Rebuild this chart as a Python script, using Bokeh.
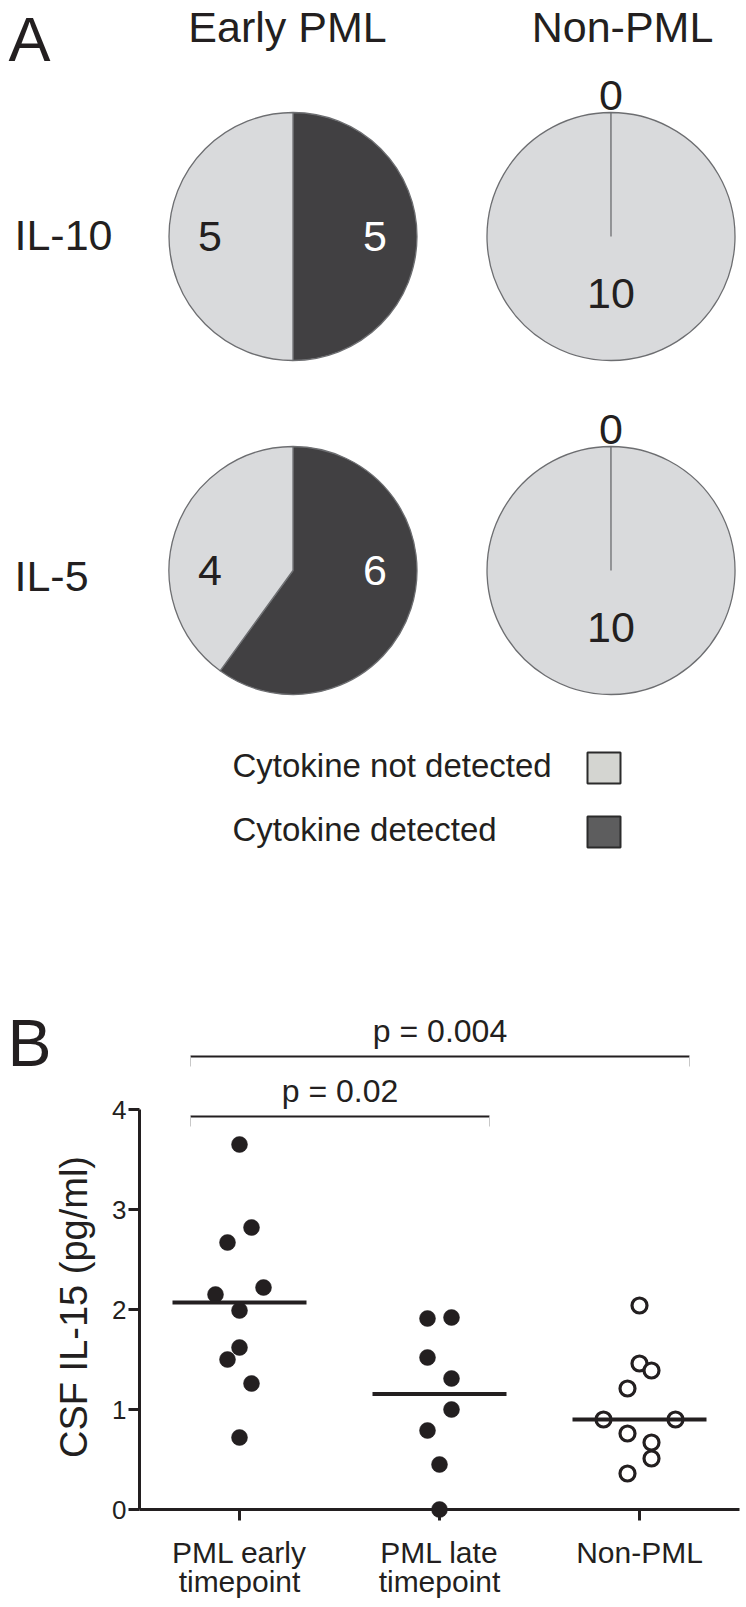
import numpy as np
from bokeh.plotting import figure
from bokeh.models import ColumnDataSource, Range1d, FixedTicker
from bokeh.layouts import column
from bokeh.core.properties import value
from bokeh.embed import file_html
from bokeh.resources import INLINE

FONT = "Liberation Sans"
INK = "#231f20"

# ---------------- data: panel A ----------------
pie_groups = ["Early PML", "Non-PML"]
pie_cytokines = ["IL-10", "IL-5"]
il10_not_detected = [5, 10]
il10_detected = [5, 0]
il5_not_detected = [4, 10]
il5_detected = [6, 0]
legend_labels = ["Cytokine not detected", "Cytokine detected"]

# ---------------- data: panel B ----------------
categories = ["PML early\ntimepoint", "PML late\ntimepoint", "Non-PML"]
pml_early = [3.65, 2.82, 2.67, 2.22, 2.15, 1.99, 1.62, 1.50, 1.26, 0.72]
pml_late = [1.92, 1.91, 1.52, 1.31, 1.00, 0.79, 0.45, 0.0]
non_pml = [2.04, 1.46, 1.39, 1.21, 0.90, 0.90, 0.76, 0.67, 0.51, 0.36]
y_ticks = [0, 1, 2, 3, 4]
p_labels = ["p = 0.02", "p = 0.004"]
p_pairs = [(1, 2), (1, 3)]

# ---------------- layout / style ----------------
LIGHT = "#d9dadc"
DARK = "#414042"
EDGE = "#6d6e71"
# jitter slots for the dot plot (layout only, in units of one dot step)
early_slots = [0, 1, -1, 2, -2, 0, 0, -1, 1, 0]
late_slots = [1, -1, -1, 1, 1, -1, 0, 0]
nonpml_slots = [0, 0, 1, -1, -3, 3, -1, 1, 1, -1]
SLOT = 0.06

W = 746
FRAME_L, FRAME_R = 139, 739

# ================= Panel A =================
# frame aligned with panel B's frame, 1 data unit = 1 px, y measured downward (negated)
pa = figure(width=W, height=892, x_range=Range1d(FRAME_L, FRAME_R), y_range=Range1d(-892, 0),
            min_border_left=FRAME_L, min_border_right=W - FRAME_R, min_border_top=0,
            min_border_bottom=0, toolbar_location=None, output_backend="svg",
            x_axis_location=None, y_axis_location=None)
pa.grid.visible = False
pa.outline_line_color = None

col_x = [292.5, 610.5]
row_y = [236, 570]
R = 124
eps = 1e-3

wx, wy, ws, we, wc = [], [], [], [], []
tx, ty, tt, tcol = [], [], [], []
rows = [(il10_not_detected, il10_detected), (il5_not_detected, il5_detected)]
for r, (nd_list, d_list) in enumerate(rows):
    for c in range(2):
        nd, d = nd_list[c], d_list[c]
        total = nd + d
        cx, cy = col_x[c], -row_y[r]
        top = np.pi / 2
        split = top - 2 * np.pi * d / total
        if d > 0:
            wx.append(cx); wy.append(cy); ws.append(top); we.append(split); wc.append(DARK)
        if nd > 0:
            end = top - 2 * np.pi + (eps if d == 0 else 0)
            wx.append(cx); wy.append(cy); ws.append(split); we.append(end); wc.append(LIGHT)
        if d > 0 and nd > 0:
            tx += [cx - 83, cx + 82]; ty += [cy, cy]
            tt += [str(nd), str(d)]; tcol += [INK, "white"]
        else:
            tx += [cx, cx]; ty += [cy + 141, cy - 57]
            tt += [str(min(nd, d)), str(max(nd, d))]; tcol += [INK, INK]

pa.wedge(x="x", y="y", radius=R, start_angle="s", end_angle="e", direction="clock",
         fill_color="c", line_color=EDGE, line_width=1.3,
         source=ColumnDataSource(dict(x=wx, y=wy, s=ws, e=we, c=wc)))
pa.text(x="x", y="y", text="t", text_color="c", text_font=value(FONT), text_font_size="43px",
        text_align="center", text_baseline="middle", level="overlay",
        source=ColumnDataSource(dict(x=tx, y=ty, t=tt, c=tcol)))

# titles and row labels
pa.text(x=[8], y=[-38], text=["A"], text_font=value(FONT), text_font_size="63px",
        text_color=INK, text_align="left", text_baseline="middle", level="overlay")
pa.text(x=[287, 622], y=[-26, -26], text=pie_groups, text_font=value(FONT),
        text_font_size="43px", text_color=INK, text_align="center", text_baseline="middle",
        level="overlay")
pa.text(x=[14, 14], y=[-234, -575], text=pie_cytokines, text_font=value(FONT),
        text_font_size="43px", text_color=INK, text_align="left", text_baseline="middle",
        level="overlay")

# legend
pa.rect(x=[603.5, 603.5], y=[-767.5, -831.5], width=33, height=31,
        fill_color=["#d4d5d1", "#5d5d5e"], line_color="#2b2b2b", line_width=2)
pa.text(x=[232, 232], y=[-765, -829], text=legend_labels, text_font=value(FONT),
        text_font_size="33px", text_color=INK, text_align="left", text_baseline="middle",
        level="overlay")

# ================= Panel B =================
pb = figure(width=W, height=715, x_range=Range1d(0.5, 3.5), y_range=Range1d(0, 4.05),
            min_border_left=FRAME_L, min_border_right=W - FRAME_R, min_border_top=212,
            min_border_bottom=98, toolbar_location=None, output_backend="svg")
pb.grid.visible = False
pb.outline_line_color = None

for ax in (pb.xaxis[0], pb.yaxis[0]):
    ax.axis_line_width = 3
    ax.axis_line_color = INK
    ax.major_tick_line_width = 3
    ax.major_tick_line_color = INK
    ax.major_tick_in = 0
    ax.major_tick_out = 11
    ax.minor_tick_line_color = None
    ax.major_label_text_font = FONT
    ax.major_label_text_color = INK

pb.xaxis.ticker = FixedTicker(ticks=[1, 2, 3])
pb.xaxis.major_label_overrides = {i + 1: lab for i, lab in enumerate(categories)}
pb.xaxis.major_label_text_font_size = "30px"
pb.xaxis.major_label_text_line_height = 0.9
pb.xaxis.major_label_standoff = 15

pb.yaxis.ticker = FixedTicker(ticks=y_ticks)
pb.yaxis.bounds = (min(y_ticks), max(y_ticks))
pb.yaxis.major_label_text_font_size = "26px"
pb.yaxis.major_label_standoff = 2
pb.yaxis.axis_label = "CSF IL-15 (pg/ml)"
pb.yaxis.axis_label_text_font = FONT
pb.yaxis.axis_label_text_font_style = "normal"
pb.yaxis.axis_label_text_font_size = "38px"
pb.yaxis.axis_label_text_color = INK
pb.yaxis.axis_label_standoff = 14

groups = [pml_early, pml_late, non_pml]
slots = [early_slots, late_slots, nonpml_slots]

for i, (vals, sl) in enumerate(zip(groups, slots)):
    xs = [i + 1 + s * SLOT for s in sl]
    if i < 2:
        pb.scatter(x=xs, y=vals, size=16, marker="circle", fill_color=INK, line_color=INK,
                   line_width=0.5, level="overlay")
    else:
        pb.scatter(x=xs, y=vals, size=15, marker="circle", fill_color="white", line_color=INK,
                   line_width=3.2, level="overlay")

meds = [float(np.median(v)) for v in groups]
pb.segment(x0=[i + 1 - 0.335 for i in range(3)], x1=[i + 1 + 0.335 for i in range(3)],
           y0=meds, y1=meds, line_width=4, line_color=INK, level="overlay")

# significance bars
bar_y = [3.93, 4.53]
bar_x0 = [a - 0.245 for a, b in p_pairs]
bar_x1 = [b + 0.25 for a, b in p_pairs]
pb.segment(x0=bar_x0, x1=bar_x1, y0=bar_y, y1=bar_y, line_width=2, line_color=INK, level="overlay")
pb.segment(x0=bar_x0 + bar_x1, x1=bar_x0 + bar_x1, y0=bar_y + bar_y,
           y1=[v - 0.1 for v in bar_y + bar_y], line_width=1, line_color="#c8c8c8", level="overlay")
pb.text(x=[(x0 + x1) / 2 for x0, x1 in zip(bar_x0, bar_x1)], y=[v + 0.26 for v in bar_y],
        text=p_labels, text_font=value(FONT), text_font_size="32px", text_color=INK,
        text_align="center", text_baseline="middle", level="overlay")

pb.text(x=[-0.16], y=[4.665], text=["B"], text_font=value(FONT), text_font_size="66px",
        text_color=INK, text_align="left", text_baseline="middle", level="overlay")

layout = column(pa, pb)
open("out.html", "w").write(file_html(layout, INLINE))
